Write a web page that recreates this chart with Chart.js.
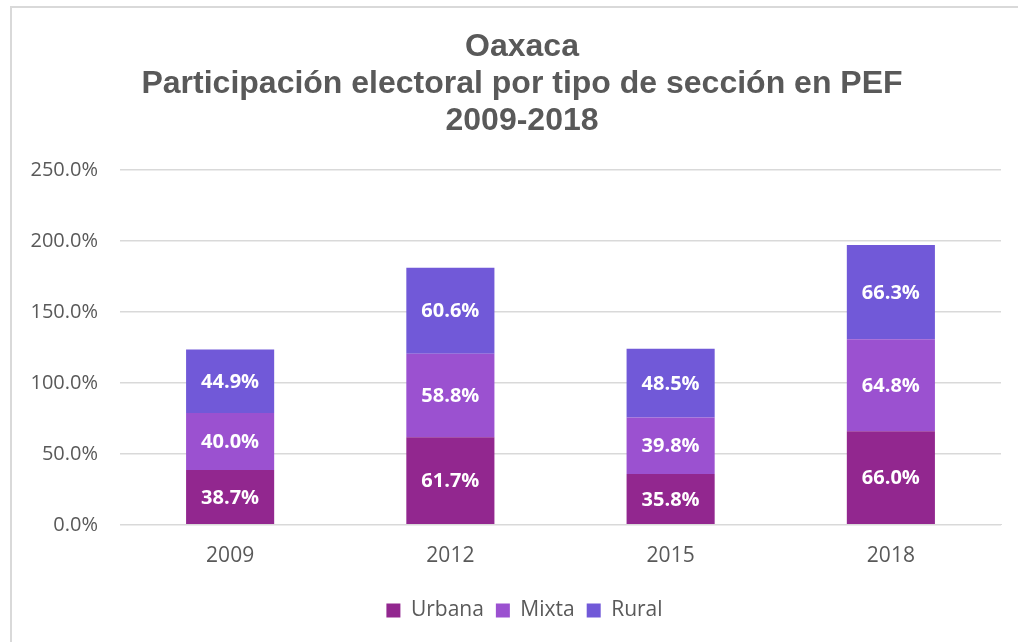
<!DOCTYPE html>
<html>
<head>
<meta charset="utf-8">
<script src="https://cdn.jsdelivr.net/npm/chart.js@4"></script>
<style>
  html, body { margin: 0; padding: 0; background: #fff; }
  #wrap { position: relative; width: 1018px; height: 642px; }
  #frame { position: absolute; left: 10px; top: 6px; width: 1040px; height: 660px;
           border: 2px solid #d9d9d9; box-sizing: border-box; }
  canvas { position: absolute; left: 0; top: 0; }
</style>
</head>
<body>
<div id="wrap">
  <div id="frame"></div>
  <canvas id="chart" width="1018" height="642"></canvas>
</div>
<script>
// Data
const years = ['2009', '2012', '2015', '2018'];
const urbana = [38.7, 61.7, 35.8, 66.0];
const mixta = [40.0, 58.8, 39.8, 64.8];
const rural = [44.9, 60.6, 48.5, 66.3];
const yTicks = [0, 50, 100, 150, 200, 250];

const titleLines = ['Oaxaca', 'Participación electoral por tipo de sección en PEF', '2009-2018'];

// title is drawn by hand so it can sit a bit right of the canvas centre, like the original
const titleBlock = {
  id: 'titleBlock',
  afterDraw(chart) {
    const ctx = chart.ctx;
    ctx.save();
    ctx.fillStyle = '#595959';
    ctx.font = 'bold 32px "Liberation Sans", Arial, sans-serif';
    ctx.textAlign = 'center';
    ctx.textBaseline = 'middle';
    const ys = [47, 84, 121];
    titleLines.forEach((line, i) => ctx.fillText(line, 522, ys[i]));
    ctx.restore();
  }
};

// legend in the original is centred a little to the right too
const legendShift = {
  id: 'legendShift',
  afterLayout(chart) {
    chart.legend.left += 14;
    chart.legend.right += 14;
  }
};

// white labels in the middle of each segment
const segmentLabels = {
  id: 'segmentLabels',
  afterDatasetsDraw(chart) {
    const ctx = chart.ctx;
    ctx.save();
    ctx.fillStyle = '#ffffff';
    ctx.font = 'bold 20px "Open Sans", sans-serif';
    ctx.textAlign = 'center';
    ctx.textBaseline = 'middle';
    chart.data.datasets.forEach((ds, i) => {
      chart.getDatasetMeta(i).data.forEach((bar, j) => {
        const y = (bar.y + bar.base) / 2;
        ctx.fillText(ds.data[j].toFixed(1) + '%', bar.x, y + 1);
      });
    });
    ctx.restore();
  }
};

const ctx = document.getElementById('chart').getContext('2d');
new Chart(ctx, {
  type: 'bar',
  data: {
    labels: years,
    datasets: [
      { label: 'Urbana', data: urbana, backgroundColor: '#92278f' },
      { label: 'Mixta', data: mixta, backgroundColor: '#9b51d0' },
      { label: 'Rural', data: rural, backgroundColor: '#7159d8' }
    ]
  },
  options: {
    responsive: false,
    animation: false,
    barPercentage: 0.4,
    categoryPercentage: 1.0,
    layout: { padding: { left: 20, right: 17, top: 170, bottom: 11 } },
    plugins: {
      title: { display: false },
      legend: {
        position: 'bottom',
        labels: {
          color: '#595959',
          font: { family: '"Open Sans", sans-serif', size: 21 },
          boxWidth: 14,
          boxHeight: 14,
          padding: 12
        }
      },
      tooltip: { enabled: false }
    },
    scales: {
      x: {
        stacked: true,
        grid: { display: false },
        border: { display: true, color: '#d9d9d9', width: 1 },
        ticks: { color: '#595959', font: { family: '"Open Sans", sans-serif', size: 21 }, padding: 11 },
        afterFit(scale) {
          scale.height += 8;
        }
      },
      y: {
        stacked: true,
        min: 0,
        max: 250,
        afterBuildTicks(scale) {
          scale.ticks = yTicks.map(v => ({ value: v }));
        },
        afterFit(scale) {
          scale.width = 100;
        },
        grid: { color: '#d9d9d9', lineWidth: 1.5, drawTicks: false },
        border: { display: false },
        ticks: {
          color: '#595959',
          font: { family: '"Open Sans", sans-serif', size: 20 },
          padding: 22,
          callback: v => v.toFixed(1) + '%'
        }
      }
    }
  },
  plugins: [segmentLabels, titleBlock, legendShift]
});
</script>
</body>
</html>
